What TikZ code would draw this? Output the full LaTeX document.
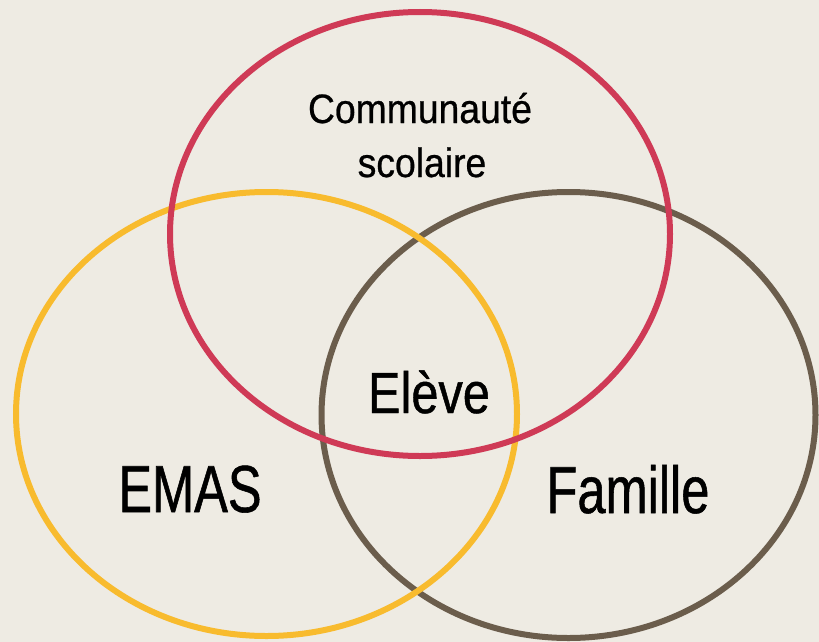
\documentclass[tikz,border=0pt]{standalone}
\usepackage{fontspec}
\setmainfont{Liberation Sans}
\newfontfamily\topfont[FakeStretch=0.91,FakeBold=0.6]{Liberation Sans}
\newfontfamily\bigfont[FakeStretch=0.76,FakeBold=0.8]{Liberation Sans}
\newfontfamily\midfont[FakeStretch=0.84,FakeBold=0.8]{Liberation Sans}
\definecolor{paper}{HTML}{EEEBE3}
\definecolor{ecole}{HTML}{CF3A56}
\definecolor{emas}{HTML}{F8BB2E}
\definecolor{famille}{HTML}{6B5D4C}
\tikzset{
  ring/.style={line width=6pt},
  toplabel/.style={anchor=base, inner sep=0pt, font=\topfont\fontsize{41}{41}\selectfont},
  biglabel/.style={anchor=base, inner sep=0pt, font=\bigfont\fontsize{66.5}{66.5}\selectfont},
  midlabel/.style={anchor=base, inner sep=0pt, font=\midfont\fontsize{58}{58}\selectfont}
}
\begin{document}
\begin{tikzpicture}[x=1pt,y=-1pt]
  %% background
  \fill[paper] (0,0) rectangle (819,642);
  \useasboundingbox (0,0) rectangle (819,642);

  %% circles
  \draw[ring, famille] (568.5,415) ellipse (247 and 223);
  \draw[ring, emas] (266.5,414) ellipse (250.5 and 222);
  \draw[ring, ecole] (420,234) ellipse (250 and 222);

  %% labels
  \node[toplabel] (communaute) at (420,123) {Communauté};
  \node[toplabel] (scolaire) at (422,177) {scolaire};
  \node[midlabel] (eleve) at (429,413) {Elève};
  \node[biglabel] (emas) at (190,512) {EMAS};
  \node[biglabel] (famille) at (628,513) {Famille};
\end{tikzpicture}
\end{document}
